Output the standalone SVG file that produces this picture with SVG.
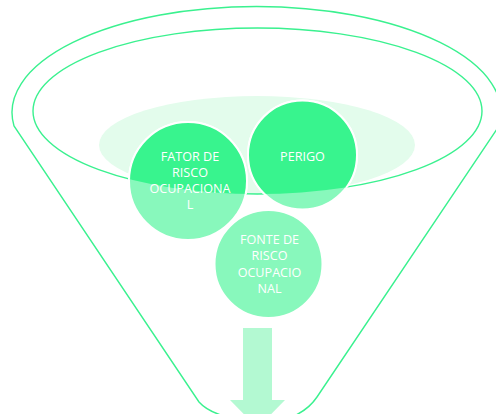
<svg xmlns="http://www.w3.org/2000/svg" width="496" height="414" viewBox="0 0 496 414">
<style>
.ln{fill:none;stroke:#3AF18F;stroke-width:1.4}
.lt{fill:#88F8BC;stroke:#FFFFFF;stroke-width:2}
.br{fill:#38F48E;stroke:#FFFFFF;stroke-width:2}
.tx{font-family:"Open Sans","Liberation Sans",sans-serif;font-size:12.6px;fill:#FFFFFF;text-anchor:middle}
</style>
<defs>
<clipPath id="inner"><ellipse cx="257.5" cy="111" rx="224.5" ry="83"/></clipPath>
</defs>
<rect width="496" height="414" fill="#FFFFFF"/>
<g id="funnel">
<ellipse cx="257" cy="145" rx="158" ry="49" fill="#E3FCEC"/>
<path class="ln" d="M 224,416 Q 207,411 199,402 L 14,126 A 244.5 106 0 1 1 499,126 L 317,397 Q 309,409 294,416"/>
<ellipse class="ln" cx="257.5" cy="111" rx="224.5" ry="83"/>
</g>
<g id="connectors">
<polygon points="243,328 272,328 272,400 285,400 257.5,428 230,400 243,400" fill="#B3F9D2"/>
</g>
<g id="fator">
<circle class="lt" cx="188" cy="181" r="59"/>
<circle class="br" cx="188" cy="181" r="59" clip-path="url(#inner)"/>
</g>
<g id="perigo">
<circle class="lt" cx="302.5" cy="155" r="54.5"/>
<circle class="br" cx="302.5" cy="155" r="54.5" clip-path="url(#inner)"/>
<text class="tx" x="302.5" y="161">PERIGO</text>
</g>
<g id="fonte">
<circle class="lt" cx="268.5" cy="264" r="54"/>
<text class="tx" x="269.5" y="243.5">FONTE DE</text>
<text class="tx" x="269.5" y="260">RISCO</text>
<text class="tx" x="269.5" y="276.5">OCUPACIO</text>
<text class="tx" x="269.5" y="292.5">NAL</text>
</g>
<g id="fator-label">
<text class="tx" x="190" y="161">FATOR DE</text>
<text class="tx" x="190" y="177">RISCO</text>
<text class="tx" x="190" y="193">OCUPACIONA</text>
<text class="tx" x="190" y="209">L</text>
</g>
</svg>
